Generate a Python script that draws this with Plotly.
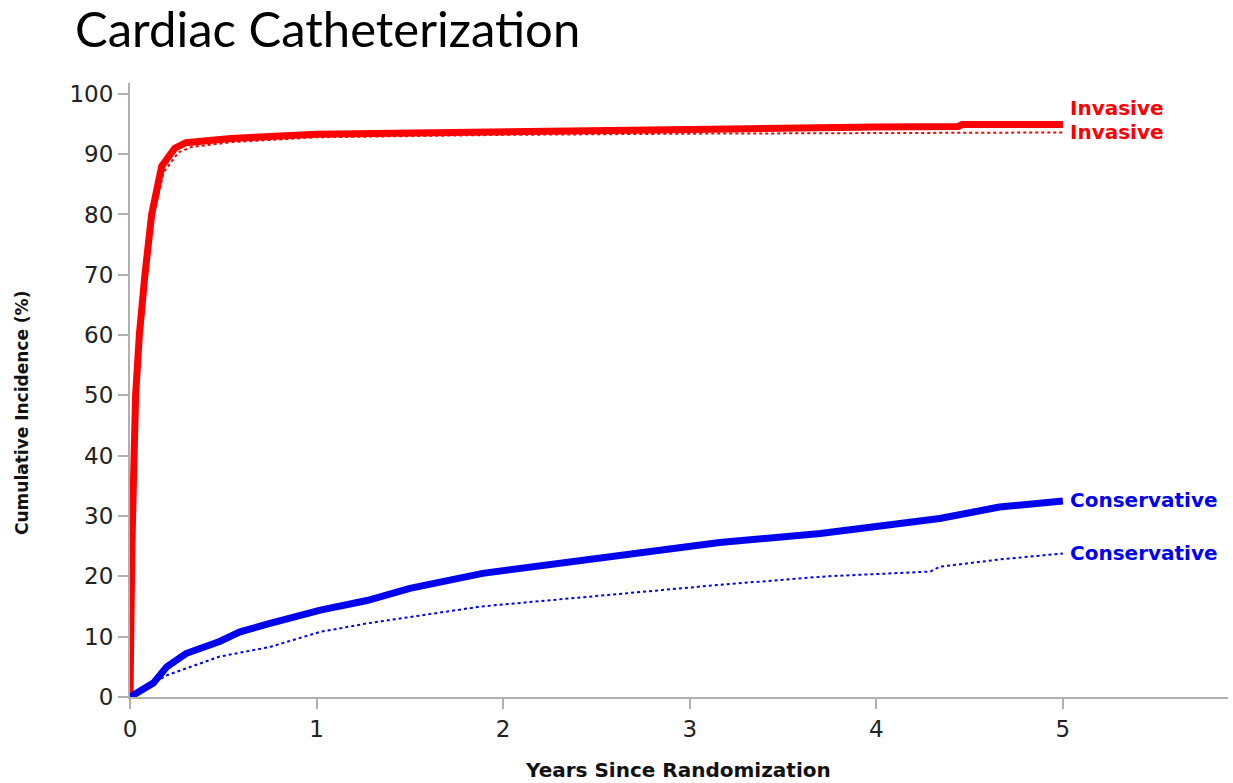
import plotly.graph_objects as go

# Cumulative incidence of cardiac catheterization (%) by years since randomization
inv_solid_years = [0, 0.01, 0.03, 0.05, 0.08, 0.116, 0.17, 0.24, 0.30, 0.54, 1.0, 2.0, 3.0, 4.0, 4.44, 4.46, 5.0]
inv_solid_pct = [0, 25, 50, 60, 70, 80, 88, 91, 91.9, 92.6, 93.3, 93.8, 94.1, 94.5, 94.6, 94.9, 94.9]

inv_dot_years = [0, 0.01, 0.03, 0.05, 0.085, 0.12, 0.18, 0.26, 0.33, 0.55, 1.0, 2.0, 3.0, 4.0, 5.0]
inv_dot_pct = [0, 24, 48, 58, 69, 79, 87, 90.3, 91.2, 92.0, 92.8, 93.2, 93.4, 93.5, 93.6]

con_solid_years = [0, 0.06, 0.125, 0.197, 0.30, 0.48, 0.59, 0.75, 1.02, 1.27, 1.50, 1.89, 2.30, 2.75, 3.16, 3.70, 4.16, 4.34, 4.66, 4.97, 5.0]
con_solid_pct = [0, 1.2, 2.3, 5.0, 7.2, 9.2, 10.8, 12.2, 14.4, 16.0, 18.0, 20.5, 22.2, 23.8, 25.6, 27.1, 28.8, 29.6, 31.5, 32.2, 32.5]

con_dot_years = [0, 0.08, 0.197, 0.48, 0.75, 1.02, 1.27, 1.88, 2.36, 2.84, 3.16, 3.73, 4.29, 4.34, 4.66, 5.0]
con_dot_pct = [0, 1.5, 3.6, 6.7, 8.3, 10.8, 12.2, 15.0, 16.4, 17.7, 18.6, 20.0, 20.8, 21.6, 22.8, 23.8]

x_ticks = [0, 1, 2, 3, 4, 5]
y_ticks = [0, 10, 20, 30, 40, 50, 60, 70, 80, 90, 100]

RED = "#ff0000"
BLUE = "#0000ee"

fig = go.Figure()
fig.add_trace(go.Scatter(x=inv_dot_years, y=inv_dot_pct, mode="lines",
                         line=dict(color=RED, width=2, dash="dot")))
fig.add_trace(go.Scatter(x=inv_solid_years, y=inv_solid_pct, mode="lines",
                         line=dict(color=RED, width=7)))
fig.add_trace(go.Scatter(x=con_dot_years, y=con_dot_pct, mode="lines",
                         line=dict(color=BLUE, width=2, dash="dot")))
fig.add_trace(go.Scatter(x=con_solid_years, y=con_solid_pct, mode="lines",
                         line=dict(color=BLUE, width=7)))

# End-of-curve labels (solid Invasive label nudged up to clear the dotted one)
end_labels = [
    ("Invasive", inv_solid_pct[-1], RED, 17),
    ("Invasive", inv_dot_pct[-1], RED, 0),
    ("Conservative", con_solid_pct[-1], BLUE, 1),
    ("Conservative", con_dot_pct[-1], BLUE, 0),
]
for text, yv, col, shift in end_labels:
    fig.add_annotation(x=5, y=yv, xref="x", yref="y", text="<b>%s</b>" % text,
                       showarrow=False, xanchor="left", yanchor="middle", xshift=5, yshift=shift,
                       font=dict(family="DejaVu Sans", size=20, color=col))

# Title and axis titles positioned relative to the plot area
fig.add_annotation(x=-57 / 1098, y=(697 - 28) / 614, xref="paper", yref="paper",
                   text="Cardiac Catheterization", showarrow=False, xanchor="left", yanchor="middle",
                   font=dict(family="Lato", size=49, color="#000000"))
fig.add_annotation(x=(22 - 130) / 1098, y=(697 - 413) / 614, xref="paper", yref="paper",
                   text="<b>Cumulative Incidence (%)</b>", showarrow=False, textangle=-90,
                   xanchor="center", yanchor="middle",
                   font=dict(family="DejaVu Sans", size=17, color="#111111"))
fig.add_annotation(x=(678 - 130) / 1098, y=(697 - 770) / 614, xref="paper", yref="paper",
                   text="<b>Years Since Randomization</b>", showarrow=False,
                   xanchor="center", yanchor="middle",
                   font=dict(family="DejaVu Sans", size=20, color="#111111"))

axis_common = dict(showline=True, linecolor="#b0b0b0", linewidth=2, ticks="outside",
                   ticklen=10, tickwidth=2, tickcolor="#b0b0b0", showgrid=False, zeroline=False,
                   automargin=False,
                   tickfont=dict(family="DejaVu Sans", size=23, color="#222222"))

fig.update_layout(
    width=1233, height=783, showlegend=False,
    paper_bgcolor="white", plot_bgcolor="white",
    margin=dict(l=130, r=5, t=83, b=86),
    xaxis=dict(range=[0, 5.885], tickvals=x_ticks, ticktext=[str(v) for v in x_ticks],
               **axis_common),
    yaxis=dict(range=[0, 101.8], tickvals=y_ticks, ticktext=[str(v) for v in y_ticks],
               **axis_common),
)

fig.write_html("out.html")
